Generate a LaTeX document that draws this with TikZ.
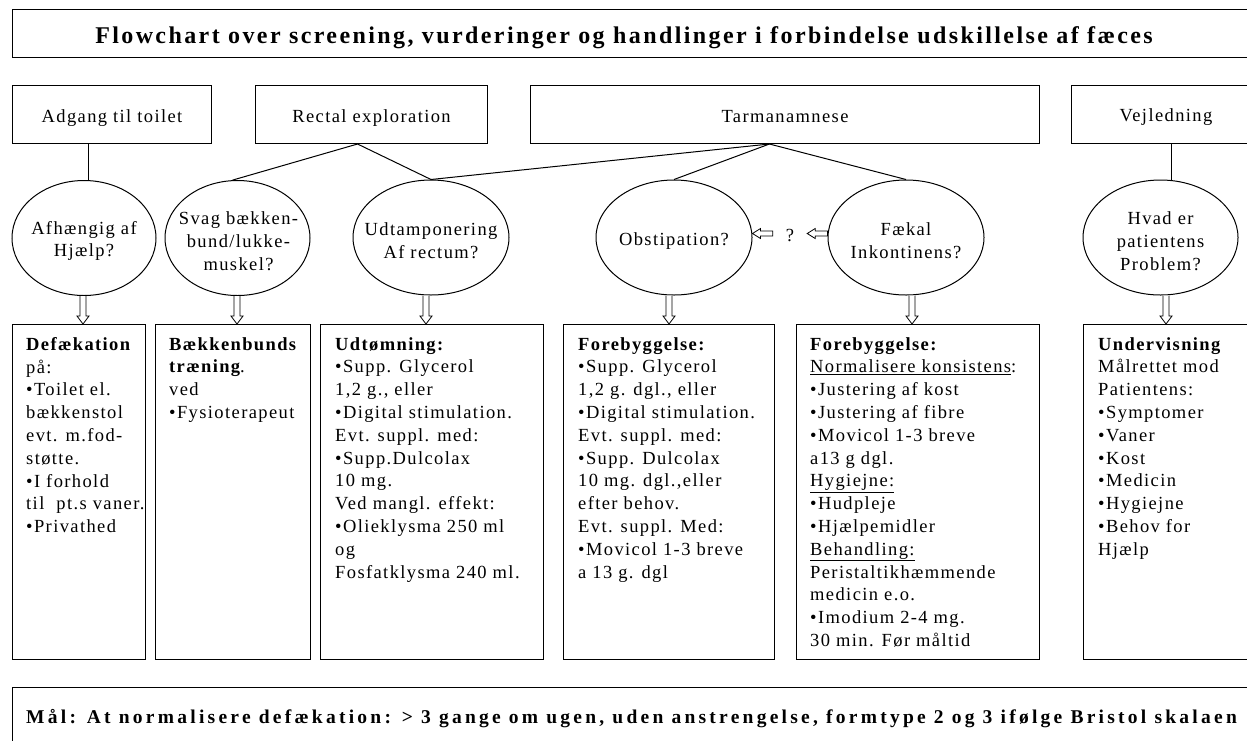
\documentclass[tikz,border=0pt]{standalone}
\usepackage{fontspec}
\setmainfont{Liberation Serif}[LetterSpace=7.5]
\newfontfamily\titlefont{Liberation Serif}[LetterSpace=10]
\newfontfamily\goalfont{Liberation Serif}[LetterSpace=16.7]
\usetikzlibrary{shapes.geometric,calc}
\newcommand\bodyfont{\fontsize{18.5}{22.8}\selectfont}
\tikzset{
  box/.style={draw, line width=1pt, rectangle, inner sep=0pt, anchor=north west},
  oval/.style={draw, line width=1pt, ellipse, inner sep=0pt, minimum width=#1, minimum height=115},
  conn/.style={line width=1pt},
  hollow/.style={draw, line width=0.8pt, fill=white, line join=miter},
  txt/.style={font=\bodyfont, align=left, inner sep=0pt, anchor=north west},
  etxt/.style={font=\bodyfont, align=center, inner sep=0pt},
  htxt/.style={font=\bodyfont, inner sep=0pt, anchor=base},
}
\newcommand\hdown[3]{%
  \coordinate (#1s) at ($(#1.south)+(#3,0)$);
  \coordinate (#1t) at (#1s |- #2.north);
  \draw[hollow] ($(#1s)+(-3,0)$) -- ($(#1t)+(-3,-8)$) -- ($(#1t)+(-6,-8)$) -- (#1t)
     -- ($(#1t)+(6,-8)$) -- ($(#1t)+(3,-8)$) -- ($(#1s)+(3,0)$);
}
\newcommand\hleft[3]{%
  \coordinate (#3) at (#2 |- #1);
  \draw[hollow] ($(#1)+(0,-2.5)$) -- ($(#3)+(8,-2.5)$) -- ($(#3)+(8,-5)$) -- (#3)
     -- ($(#3)+(8,5)$) -- ($(#3)+(8,2.5)$) -- ($(#1)+(0,2.5)$) -- cycle;
}
\begin{document}
\begin{tikzpicture}[x=1pt,y=-1pt]
\path[use as bounding box, clip] (0,0) rectangle (1247,740);
\fill[white] (0,0) rectangle (1247,740);

% title
\node[box, minimum width=1260, minimum height=48] (tb) at (12,9) {};
\node[inner sep=0pt, anchor=base, font=\titlefont\fontsize{24}{28}\selectfont\bfseries] (title) at (624,43)
  {Flowchart over screening, vurderinger og handlinger i forbindelse udskillelse af fæces};

% top boxes
\node[box, minimum width=199, minimum height=58] (a1) at (12,85) {};
\node[box, minimum width=232, minimum height=58] (a2) at (255,85) {};
\node[box, minimum width=509, minimum height=58] (a3) at (530,85) {};
\node[box, minimum width=189, minimum height=58] (a4) at (1071,85) {};
\node[htxt] (a1t) at (a1.center |- 0,122) {Adgang til toilet};
\node[htxt] (a2t) at (a2.center |- 0,122) {Rectal exploration};
\node[htxt] (a3t) at (a3.center |- 0,122) {Tarmanamnese};
\node[htxt] (a4t) at (a4.center |- 0,121) {Vejledning};

% ellipses
\node[oval=144] (e1) at (84,238) {};
\node[oval=145] (e2) at (237.5,238) {};
\node[oval=156] (e3) at (431,237.5) {};
\node[oval=156] (e4) at (674,237.5) {};
\node[oval=156] (e5) at (906,237.5) {};
\node[oval=155] (e6) at (1160.5,237.5) {};
\node[etxt] (e1t) at (84,241) {Afhængig af\\Hjælp?};
\node[etxt] (e2t) at (238.5,241) {Svag bækken-\\bund/lukke-\\muskel?};
\node[etxt] (e3t) at (431,241) {Udtamponering\\Af rectum?};
\node[etxt] (e4t) at (674,241) {Obstipation?};
\node[etxt] (e5t) at (906,241) {Fækal\\Inkontinens?};
\node[etxt] (e6t) at (1160.5,241) {Hvad er\\patientens\\Problem?};

% connectors
\coordinate (a1b) at ($(a1.south west)!0.382!(a1.south east)$);
\coordinate (a2b) at ($(a2.south west)!0.44!(a2.south east)$);
\coordinate (a3b) at ($(a3.south west)!0.4695!(a3.south east)$);
\coordinate (a4b) at ($(a4.south west)!0.529!(a4.south east)$);
\draw[conn] (a1b) -- (a1b |- e1.north);
\draw[conn] (a2b) -- (e2.95);
\draw[conn] (a2b) -- (e3.north);
\draw[conn] (a3b) -- (e3.north);
\draw[conn] (a3b) -- (e4.north);
\draw[conn] (a3b) -- (e5.north);
\draw[conn] (a4b) -- (a4b |- e6.north);

% question mark and side arrows
\node[font=\bodyfont, inner sep=0pt, minimum width=34, minimum height=14] (q) at (790,235.5) {?};
\coordinate (qw) at ($(q.west)+(0,-2)$);
\coordinate (e5w) at (e5.west |- qw);
\hleft{qw}{e4.east}{tipA}
\hleft{e5w}{q.east}{tipB}

% bottom boxes
\node[box, minimum width=133, minimum height=335] (b1) at (12,324) {};
\node[box, minimum width=155, minimum height=335] (b2) at (155,324) {};
\node[box, minimum width=223, minimum height=335] (b3) at (320,324) {};
\node[box, minimum width=211, minimum height=335] (b4) at (563,324) {};
\node[box, minimum width=243, minimum height=335] (b5) at (796,324) {};
\node[box, minimum width=200, minimum height=335] (b6) at (1083,324) {};

\hdown{e1}{b1}{-1}
\hdown{e2}{b2}{-0.5}
\hdown{e3}{b3}{-5}
\hdown{e4}{b4}{-5}
\hdown{e5}{b5}{6}
\hdown{e6}{b6}{5.5}

\node[txt] (b1t) at ($(b1.north west)+(14,13)$) {\textbf{Defækation}\\på:\\•Toilet el.\\bækkenstol\\evt. m.fod-\\støtte.\\•I forhold\\til\ \ pt.s vaner.\\•Privathed};
\node[txt] (b2t) at ($(b2.north west)+(14,13)$) {\textbf{Bækkenbunds}\\\textbf{træning}.\\ved\\•Fysioterapeut};
\node[txt] (b3t) at ($(b3.north west)+(15,13)$) {\textbf{Udtømning:}\\•Supp. Glycerol\\1,2 g., eller\\•Digital stimulation.\\Evt. suppl. med:\\•Supp.Dulcolax\\10 mg.\\Ved mangl. effekt:\\•Olieklysma 250 ml\\og\\Fosfatklysma 240 ml.};
\node[txt] (b4t) at ($(b4.north west)+(15,13)$) {\textbf{Forebyggelse:}\\•Supp. Glycerol\\1,2 g. dgl., eller\\•Digital stimulation.\\Evt. suppl. med:\\•Supp. Dulcolax\\10 mg. dgl.,eller\\efter behov.\\Evt. suppl. Med:\\•Movicol 1-3 breve\\a 13 g. dgl};
\node[txt] (b5t) at ($(b5.north west)+(14,13)$) {\textbf{Forebyggelse:}\\\underline{Normalisere konsistens}:\\•Justering af kost\\•Justering af fibre\\•Movicol 1-3 breve\\a13 g dgl.\\\underline{Hygiejne:}\\•Hudpleje\\•Hjælpemidler\\\underline{Behandling:}\\Peristaltikhæmmende\\medicin e.o.\\•Imodium 2-4 mg.\\30 min. Før måltid};
\node[txt] (b6t) at ($(b6.north west)+(15,13)$) {\textbf{Undervisning}\\Målrettet mod\\Patientens:\\•Symptomer\\•Vaner\\•Kost\\•Medicin\\•Hygiejne\\•Behov for\\Hjælp};

% goal
\node[box, minimum width=1260, minimum height=100] (gb) at (12,687) {};
\node[inner sep=0pt, anchor=base west, font=\goalfont\fontsize{19.5}{23}\selectfont\bfseries] (goal) at (26,723)
  {Mål: At normalisere defækation: > 3 gange om ugen, uden anstrengelse, formtype 2 og 3 ifølge Bristol skalaen};
\end{tikzpicture}
\end{document}
